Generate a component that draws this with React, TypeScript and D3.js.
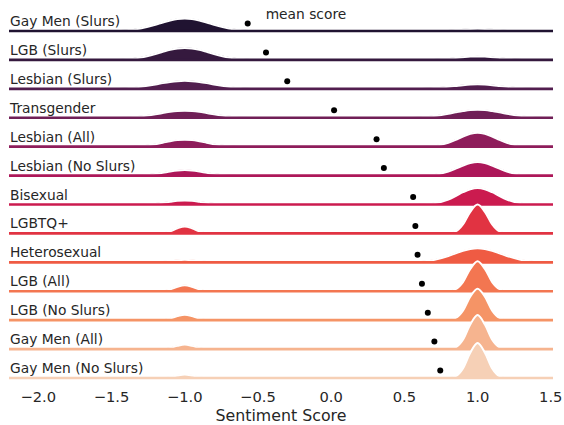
import React, { useEffect, useRef } from 'react';
import * as d3 from 'd3';

// Row labels, top to bottom
const groups = [
  'Gay Men (Slurs)',
  'LGB (Slurs)',
  'Lesbian (Slurs)',
  'Transgender',
  'Lesbian (All)',
  'Lesbian (No Slurs)',
  'Bisexual',
  'LGBTQ+',
  'Heterosexual',
  'LGB (All)',
  'LGB (No Slurs)',
  'Gay Men (All)',
  'Gay Men (No Slurs)'
];

// Mean sentiment score per group (black dots)
const meanScores = [-0.57, -0.445, -0.3, 0.02, 0.31, 0.36, 0.56, 0.575, 0.59, 0.62, 0.66, 0.705, 0.745];

const scoreGrid = [
  -2.2, -1.5, -1.4, -1.3, -1.2, -1.15, -1.1, -1.05, -1.0, -0.95, -0.9, -0.85, -0.8, -0.7, -0.6, -0.5,
  0.5, 0.6, 0.7, 0.8, 0.85, 0.9, 0.95, 1.0, 1.05, 1.1, 1.15, 1.2, 1.3, 1.4, 1.515
];

// Density readings per group, on scoreGrid
const gayMenSlurs = [0, 0.02, 0.08, 0.26, 0.63, 0.85, 1.05, 1.2, 1.25, 1.2, 1.05, 0.85, 0.63, 0.26, 0.08, 0.02, 0, 0, 0.01, 0.05, 0.1, 0.16, 0.2, 0.22, 0.2, 0.16, 0.1, 0.05, 0.01, 0, 0];
const lgbSlurs = [0, 0.02, 0.08, 0.25, 0.6, 0.81, 1.01, 1.15, 1.2, 1.15, 1.01, 0.81, 0.6, 0.25, 0.08, 0.02, 0, 0.01, 0.04, 0.13, 0.2, 0.27, 0.33, 0.35, 0.33, 0.27, 0.2, 0.13, 0.04, 0.01, 0];
const lesbianSlurs = [0, 0.02, 0.07, 0.2, 0.43, 0.57, 0.69, 0.77, 0.8, 0.77, 0.69, 0.57, 0.43, 0.2, 0.07, 0.02, 0, 0.02, 0.08, 0.21, 0.29, 0.37, 0.43, 0.45, 0.43, 0.37, 0.29, 0.21, 0.08, 0.02, 0];
const transgender = [0, 0.01, 0.04, 0.15, 0.35, 0.47, 0.59, 0.67, 0.7, 0.67, 0.59, 0.47, 0.35, 0.15, 0.04, 0.01, 0.01, 0.05, 0.17, 0.4, 0.54, 0.67, 0.77, 0.8, 0.77, 0.67, 0.54, 0.4, 0.17, 0.05, 0.01];
const lesbianAll = [0, 0, 0.01, 0.07, 0.25, 0.39, 0.54, 0.66, 0.7, 0.66, 0.54, 0.39, 0.25, 0.07, 0.01, 0, 0, 0.01, 0.08, 0.39, 0.68, 1.02, 1.29, 1.4, 1.29, 1.02, 0.68, 0.39, 0.08, 0.01, 0];
const lesbianNoSlurs = [0, 0, 0, 0.04, 0.17, 0.28, 0.41, 0.51, 0.55, 0.51, 0.41, 0.28, 0.17, 0.04, 0, 0, 0, 0.01, 0.09, 0.41, 0.69, 1.0, 1.25, 1.35, 1.25, 1.0, 0.69, 0.41, 0.09, 0.01, 0];
const bisexual = [0, 0, 0, 0.02, 0.1, 0.18, 0.28, 0.37, 0.4, 0.37, 0.28, 0.18, 0.1, 0.02, 0, 0, 0, 0.01, 0.12, 0.5, 0.85, 1.23, 1.53, 1.65, 1.53, 1.23, 0.85, 0.5, 0.12, 0.01, 0];
const lgbtq = [0, 0, 0, 0, 0.01, 0.05, 0.21, 0.52, 0.7, 0.52, 0.21, 0.05, 0.01, 0, 0, 0, 0, 0, 0, 0.03, 0.2, 0.89, 2.16, 2.9, 2.16, 0.89, 0.2, 0.03, 0, 0, 0];
const heterosexual = [0, 0, 0, 0, 0.03, 0.08, 0.15, 0.22, 0.25, 0.22, 0.15, 0.08, 0.03, 0, 0, 0, 0.01, 0.06, 0.24, 0.64, 0.9, 1.15, 1.33, 1.4, 1.33, 1.15, 0.9, 0.64, 0.24, 0.06, 0.01];
const lgbAll = [0, 0, 0, 0, 0.01, 0.04, 0.18, 0.45, 0.6, 0.45, 0.18, 0.04, 0.01, 0, 0, 0, 0, 0, 0, 0.03, 0.21, 0.92, 2.23, 3.0, 2.23, 0.92, 0.21, 0.03, 0, 0, 0];
const lgbNoSlurs = [0, 0, 0, 0, 0, 0.04, 0.17, 0.41, 0.55, 0.41, 0.17, 0.04, 0, 0, 0, 0, 0, 0, 0, 0.03, 0.22, 0.96, 2.34, 3.15, 2.34, 0.96, 0.22, 0.03, 0, 0, 0];
const gayMenAll = [0, 0, 0, 0, 0, 0.02, 0.12, 0.32, 0.45, 0.32, 0.12, 0.02, 0, 0, 0, 0, 0, 0, 0, 0.02, 0.18, 0.93, 2.45, 3.4, 2.45, 0.93, 0.18, 0.02, 0, 0, 0];
const gayMenNoSlurs = [0, 0, 0, 0, 0, 0.02, 0.1, 0.25, 0.35, 0.25, 0.1, 0.02, 0, 0, 0, 0, 0, 0, 0, 0.02, 0.19, 0.96, 2.53, 3.5, 2.53, 0.96, 0.19, 0.02, 0, 0, 0];

const densities = [
  gayMenSlurs, lgbSlurs, lesbianSlurs, transgender, lesbianAll, lesbianNoSlurs,
  bisexual, lgbtq, heterosexual, lgbAll, lgbNoSlurs, gayMenAll, gayMenNoSlurs
];

// rocket-like palette, dark to light
const palette = [
  '#201331', '#35193e', '#521e4f', '#701f57', '#8e1d5b', '#ad1759', '#cb1b4f',
  '#e13342', '#ef5b43', '#f37651', '#f59466', '#f6b48f', '#f6d0b6'
];

const xTicks = [-2.0, -1.5, -1.0, -0.5, 0.0, 0.5, 1.0, 1.5];

const width = 564;
const height = 425;
const font = '"DejaVu Sans", sans-serif';
const textColor = '#262626';

const App: React.FC = () => {
  const svgRef = useRef<SVGSVGElement>(null);

  useEffect(() => {
    const svg = d3.select(svgRef.current);
    svg.selectAll('*').remove();

    const xScale = d3.scaleLinear().domain([-2.2, 1.515]).range([9, 553]);
    const rowScale = d3.scalePoint<string>().domain(groups).range([31, 378]);
    const densityScale = d3.scaleLinear().domain([0, 1]).range([0, 10]);

    svg.append('rect')
      .attr('width', width)
      .attr('height', height)
      .attr('fill', '#ffffff');

    groups.forEach((group, i) => {
      const base = rowScale(group)!;
      const color = palette[i];
      const values = densities[i];
      const row = svg.append('g');

      const area = d3.area<number>()
        .x((_, j) => xScale(scoreGrid[j]))
        .y0(base)
        .y1(v => base - densityScale(v))
        .curve(d3.curveMonotoneX);

      const line = d3.line<number>()
        .x((_, j) => xScale(scoreGrid[j]))
        .y(v => base - densityScale(v))
        .curve(d3.curveMonotoneX);

      // filled density
      row.append('path')
        .attr('d', area(values))
        .attr('fill', color)
        .attr('stroke', color)
        .attr('stroke-width', 0.8);

      // white outline
      row.append('path')
        .attr('d', line(values))
        .attr('fill', 'none')
        .attr('stroke', '#ffffff')
        .attr('stroke-width', 2);

      // baseline
      row.append('line')
        .attr('x1', xScale(-2.2))
        .attr('x2', xScale(1.515))
        .attr('y1', base)
        .attr('y2', base)
        .attr('stroke', color)
        .attr('stroke-width', 2.6);

      // group label
      row.append('text')
        .attr('x', 10)
        .attr('y', base - 5)
        .attr('font-family', font)
        .attr('font-size', 13.8)
        .attr('fill', textColor)
        .text(group);

      // mean dot
      row.append('circle')
        .attr('cx', xScale(meanScores[i]))
        .attr('cy', base - 7.5)
        .attr('r', 3)
        .attr('fill', '#000000');
    });

    // annotation next to the first mean dot
    svg.append('text')
      .attr('x', xScale(meanScores[0]) + 18)
      .attr('y', 19)
      .attr('font-family', font)
      .attr('font-size', 13.8)
      .attr('fill', textColor)
      .text('mean score');

    // x tick labels
    const fmt = d3.format('.1f');
    svg.append('g')
      .selectAll('text')
      .data(xTicks)
      .join('text')
      .attr('x', d => xScale(d))
      .attr('y', 402)
      .attr('text-anchor', 'middle')
      .attr('font-family', font)
      .attr('font-size', 14.7)
      .attr('fill', textColor)
      .text(d => fmt(d));

    // x axis title
    svg.append('text')
      .attr('x', (xScale(-2.2) + xScale(1.515)) / 2)
      .attr('y', 421)
      .attr('text-anchor', 'middle')
      .attr('font-family', font)
      .attr('font-size', 15.8)
      .attr('fill', textColor)
      .text('Sentiment Score');
  }, []);

  return (
    <svg
      ref={svgRef}
      width={width}
      height={height}
      style={{ position: 'absolute', left: 0, top: 0, display: 'block' }}
    />
  );
};

export default App;
